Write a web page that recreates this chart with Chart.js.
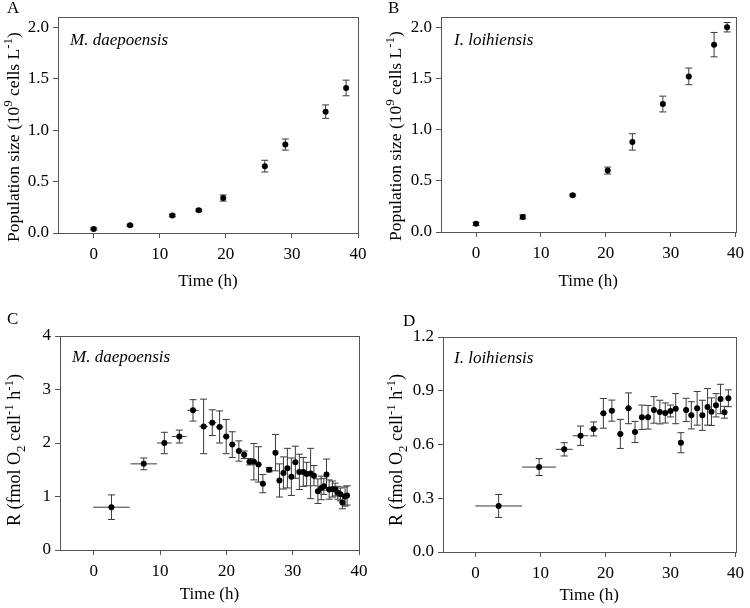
<!DOCTYPE html>
<html><head><meta charset="utf-8">
<script src="https://cdn.jsdelivr.net/npm/chart.js@4/dist/chart.umd.min.js"></script>
<style>
html,body{margin:0;padding:0;background:#fff;}
#wrap{position:relative;width:750px;height:608px;overflow:hidden;}
.p{position:absolute;width:375px;height:304px;}
.lbl{position:absolute;font-family:"Liberation Serif",serif;font-size:17px;line-height:17px;color:#000;}
</style></head><body>
<div id="wrap">
<div class="p" style="left:0;top:0"><canvas id="cA" width="375" height="304"></canvas></div>
<div class="p" style="left:375px;top:0"><canvas id="cB" width="375" height="304"></canvas></div>
<div class="p" style="left:0;top:304px"><canvas id="cC" width="375" height="304"></canvas></div>
<div class="p" style="left:375px;top:304px"><canvas id="cD" width="375" height="304"></canvas></div>
<div class="lbl" style="left:7px;top:-1px">A</div>
<div class="lbl" style="left:388px;top:-1px">B</div>
<div class="lbl" style="left:7px;top:310px">C</div>
<div class="lbl" style="left:403px;top:312px">D</div>
</div>
<script>
// ---- Data ----
const xTicks = [0, 10, 20, 30, 40];
const yTicksPop = [0, 0.5, 1.0, 1.5, 2.0];
const yTicksC = [0, 1, 2, 3, 4];
const yTicksD = [0, 0.3, 0.6, 0.9, 1.2];

const speciesM = "M. daepoensis";
const speciesI = "I. loihiensis";
const xTitle = "Time (h)";
// axis titles as text runs: [text, kind] with kind '' | 'sup' | 'sub'
const popTitle = [["Population size (10", ""], ["9", "sup"], [" cells L", ""], ["-1", "sup"], [")", ""]];
const respTitle = [["R (fmol O", ""], ["2", "sub"], [" cell", ""], ["-1", "sup"], [" h", ""], ["-1", "sup"], [")", ""]];

// Panel A: M. daepoensis population size
const timeA = [0, 5.5, 11.9, 15.9, 19.6, 25.9, 29.0, 35.1, 38.2];
const popA = [0.04, 0.075, 0.17, 0.22, 0.34, 0.65, 0.86, 1.18, 1.41];
const popErrA = [0.01, 0.01, 0.012, 0.012, 0.03, 0.057, 0.054, 0.065, 0.076];

// Panel B: I. loihiensis population size
const timeB = [0, 7.2, 14.9, 20.3, 24.1, 28.8, 32.8, 36.7, 38.7];
const popB = [0.08, 0.147, 0.36, 0.60, 0.88, 1.25, 1.52, 1.83, 2.0];
const popErrB = [0.015, 0.02, 0.01, 0.034, 0.08, 0.077, 0.081, 0.119, 0.046];

// Panel C: M. daepoensis respiration
const timeC = [2.66, 7.53, 10.64, 12.9, 14.96, 16.56, 17.87, 18.97, 19.97, 20.88, 21.88, 22.68, 23.49, 24.14, 24.84, 25.5, 26.45, 27.4, 28.0, 28.6, 29.2, 29.8, 30.4, 31.0, 31.6, 32.1, 32.7, 33.2, 33.8, 34.3, 34.7, 35.1, 35.5, 36.0, 36.4, 36.8, 37.2, 37.5, 37.9, 38.2];
const respC = [0.80, 1.61, 2.00, 2.12, 2.61, 2.31, 2.38, 2.30, 2.12, 1.97, 1.85, 1.78, 1.65, 1.65, 1.60, 1.24, 1.50, 1.82, 1.30, 1.44, 1.53, 1.37, 1.64, 1.46, 1.46, 1.42, 1.43, 1.39, 1.10, 1.16, 1.19, 1.41, 1.13, 1.14, 1.13, 1.07, 1.04, 0.89, 1.00, 1.02];
const respErrC = [0.23, 0.11, 0.20, 0.12, 0.20, 0.51, 0.24, 0.30, 0.32, 0.24, 0.19, 0.07, 0.06, 0.34, 0.33, 0.17, 0.04, 0.34, 0.31, 0.30, 0.37, 0.35, 0.30, 0.33, 0.27, 0.22, 0.47, 0.19, 0.23, 0.22, 0.15, 0.29, 0.18, 0.15, 0.12, 0.12, 0.12, 0.12, 0.18, 0.18];
const timeErrC = [2.76, 2.0, 1.1, 1.1, 0.85, 0.65, 0.6, 0.55, 0.5, 0.5, 0.5, 0.45, 0.45, 0.45, 0.45, 0.45, 0.45, 0.4, 0.4, 0.4, 0.4, 0.4, 0.4, 0.4, 0.35, 0.35, 0.35, 0.35, 0.35, 0.35, 0.35, 0.35, 0.3, 0.3, 0.3, 0.3, 0.3, 0.3, 0.3, 0.3];

// Panel D: I. loihiensis respiration
const timeD = [3.56, 9.79, 13.65, 16.16, 18.17, 19.67, 20.98, 22.28, 23.54, 24.54, 25.6, 26.55, 27.45, 28.36, 29.2, 30.0, 30.8, 31.6, 32.4, 33.2, 34.1, 34.9, 35.7, 36.3, 37.0, 37.7, 38.3, 38.9];
const respD = [0.257, 0.474, 0.573, 0.649, 0.687, 0.774, 0.789, 0.659, 0.802, 0.670, 0.752, 0.752, 0.793, 0.781, 0.776, 0.787, 0.800, 0.610, 0.793, 0.763, 0.802, 0.763, 0.810, 0.783, 0.819, 0.854, 0.780, 0.858];
const respErrD = [0.064, 0.047, 0.037, 0.054, 0.039, 0.083, 0.059, 0.081, 0.086, 0.059, 0.068, 0.066, 0.074, 0.066, 0.056, 0.033, 0.084, 0.056, 0.065, 0.076, 0.094, 0.084, 0.102, 0.077, 0.065, 0.082, 0.033, 0.047];
const timeErrD = [3.6, 2.6, 1.3, 1.2, 0.7, 0.5, 0.5, 0.5, 0.5, 0.45, 0.45, 0.45, 0.45, 0.4, 0.4, 0.4, 0.4, 0.4, 0.4, 0.35, 0.35, 0.35, 0.35, 0.35, 0.3, 0.3, 0.3, 0.3];

// ---- Rendering ----
const FONT = '"Liberation Serif", "Times New Roman", serif';
const W = 375, H = 304;

const errorBarPlugin = {
  id: 'errbars',
  beforeDatasetsDraw(chart, args, opts) {
    const {ctx, scales: {x, y}} = chart;
    const ds = chart.data.datasets[0];
    ctx.save();
    ctx.strokeStyle = '#3a3a3a';
    ctx.lineWidth = 1;
    ds.data.forEach((p, i) => {
      const px = x.getPixelForValue(p.x), py = y.getPixelForValue(p.y);
      const ye = opts.yerr ? opts.yerr[i] : 0;
      const xe = opts.xerr ? opts.xerr[i] : 0;
      ctx.beginPath();
      if (ye) {
        const y1 = y.getPixelForValue(p.y + ye), y2 = y.getPixelForValue(p.y - ye);
        ctx.moveTo(px, y1); ctx.lineTo(px, y2);
        ctx.moveTo(px - 3.5, y1); ctx.lineTo(px + 3.5, y1);
        ctx.moveTo(px - 3.5, y2); ctx.lineTo(px + 3.5, y2);
      }
      if (xe) {
        const x1 = x.getPixelForValue(p.x - xe), x2 = x.getPixelForValue(p.x + xe);
        ctx.moveTo(x1, py); ctx.lineTo(x2, py);
      }
      ctx.stroke();
    });
    ctx.restore();
  }
};

function fontFor(kind, size) {
  return (kind ? Math.round(size * 0.72) : size) + 'px ' + FONT;
}

const framePlugin = {
  id: 'frame',
  afterDraw(chart, args, opts) {
    const {ctx, chartArea: a} = chart;
    ctx.save();
    ctx.strokeStyle = '#555';
    ctx.lineWidth = 1;
    ctx.strokeRect(Math.round(a.left) + 0.5, Math.round(a.top) + 0.5, Math.round(a.right - a.left), Math.round(a.bottom - a.top));
    // species label
    ctx.font = 'italic 17px ' + FONT;
    ctx.fillStyle = '#000';
    ctx.textBaseline = 'alphabetic';
    ctx.textAlign = 'left';
    ctx.fillText(opts.species, a.left + opts.sx, a.top + opts.sy);
    // rotated y-axis title with super/subscripts
    const size = opts.tsize;
    let total = 0;
    const widths = opts.ytitle.map(([t, k]) => { ctx.font = fontFor(k, size); const w = ctx.measureText(t).width; total += w; return w; });
    ctx.translate(opts.tx, opts.ty);
    ctx.rotate(-Math.PI / 2);
    let x = -total / 2;
    const base = size * 0.33;
    opts.ytitle.forEach(([t, k], i) => {
      ctx.font = fontFor(k, size);
      const dy = k === 'sup' ? -size * 0.4 : (k === 'sub' ? size * 0.28 : 0);
      ctx.fillText(t, x, base + dy);
      x += widths[i];
    });
    ctx.restore();
  }
};

function makeChart(id, c) {
  const data = c.xs.map((v, i) => ({x: v, y: c.ys[i]}));
  return new Chart(document.getElementById(id), {
    type: 'scatter',
    data: {datasets: [{data, pointRadius: 3, pointBackgroundColor: '#000', pointBorderWidth: 0, showLine: false}]},
    plugins: [errorBarPlugin, framePlugin],
    options: {
      responsive: false, animation: false, devicePixelRatio: 1,
      layout: {padding: {left: 0, top: c.T, right: W - c.R, bottom: 0}},
      plugins: {
        legend: {display: false}, tooltip: {enabled: false},
        errbars: {yerr: c.yerr, xerr: c.xerr},
        frame: {species: c.species, sx: c.sx, sy: c.sy, ytitle: c.ytitle, tx: c.tx, ty: c.ty, tsize: c.tsize}
      },
      scales: {
        x: {
          type: 'linear', min: c.xmin, max: 40,
          afterFit(s) { s.height = H - c.B; },
          afterBuildTicks(s) { s.ticks = xTicks.map(v => ({value: v})); },
          ticks: {font: {family: FONT, size: 17}, color: '#000', padding: 6, maxRotation: 0, autoSkip: false},
          grid: {drawOnChartArea: false, drawTicks: true, tickLength: 5, color: '#555'},
          border: {color: '#555'},
          title: {display: true, text: xTitle, font: {family: FONT, size: 17}, color: '#000', padding: {top: 0, bottom: c.xtp}}
        },
        y: {
          type: 'linear', min: 0, max: c.ymax,
          afterFit(s) { s.width = c.L; },
          afterBuildTicks(s) { s.ticks = c.yticks.map(v => ({value: v})); },
          ticks: {font: {family: FONT, size: 17}, color: '#000', padding: 4, autoSkip: false,
                  callback: v => v.toFixed(c.dec)},
          grid: {drawOnChartArea: false, drawTicks: true, tickLength: 5, color: '#555'},
          border: {color: '#555'},
          title: {display: false}
        }
      }
    }
  });
}

makeChart('cA', {xs: timeA, ys: popA, yerr: popErrA, xerr: null, L: 58, R: 358, T: 17, B: 233,
  xmin: -5.4, ymax: 2.1, yticks: yTicksPop, dec: 1, ytitle: popTitle, tx: 13, ty: 137, tsize: 17.5, xtp: 12,
  species: speciesM, sx: 12, sy: 28});
makeChart('cB', {xs: timeB, ys: popB, yerr: popErrB, xerr: null, L: 66, R: 367, T: 17, B: 232,
  xmin: -5.4, ymax: 2.1, yticks: yTicksPop, dec: 1, ytitle: popTitle, tx: 20, ty: 136, tsize: 17.5, xtp: 12,
  species: speciesI, sx: 13, sy: 28});
makeChart('cC', {xs: timeC, ys: respC, yerr: respErrC, xerr: timeErrC, L: 60, R: 359, T: 32, B: 246,
  xmin: -5.1, ymax: 4, yticks: yTicksC, dec: 0, ytitle: respTitle, tx: 14.5, ty: 146, tsize: 18, xtp: 3,
  species: speciesM, sx: 12, sy: 26});
makeChart('cD', {xs: timeD, ys: respD, yerr: respErrD, xerr: timeErrD, L: 68, R: 367, T: 33, B: 248,
  xmin: -5.0, ymax: 1.2, yticks: yTicksD, dec: 1, ytitle: respTitle, tx: 21, ty: 146, tsize: 18, xtp: 2,
  species: speciesI, sx: 11, sy: 26});
</script>
</body></html>
